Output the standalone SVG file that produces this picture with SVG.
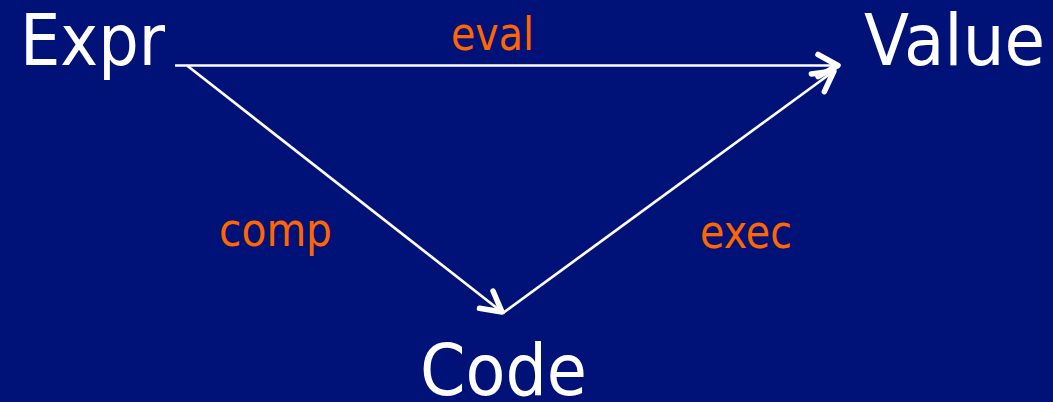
<svg xmlns="http://www.w3.org/2000/svg" width="1053" height="402" viewBox="0 0 1053 402">
<style>
.node{font-family:"DejaVu Sans","Liberation Sans",sans-serif;font-size:71px;fill:#ffffff}
.lbl{font-family:"DejaVu Sans","Liberation Sans",sans-serif;font-size:46px;fill:#ff6600}
.edge{stroke:#ffffff;stroke-width:2.7;fill:none}
</style>
<defs>
<marker id="arrow" markerUnits="userSpaceOnUse" markerWidth="40" markerHeight="40" refX="0" refY="0" orient="auto" overflow="visible">
<path d="M-20,-11 L0,0 L-20,11" fill="none" stroke="#ffffff" stroke-width="5.5" stroke-linecap="round" stroke-linejoin="round"/>
</marker>
</defs>
<rect width="1053" height="402" fill="#001178"/>
<g id="connectors">
<line class="edge" x1="175" y1="65.5" x2="838" y2="65.5" marker-end="url(#arrow)"/>
<line class="edge" x1="187" y1="65.5" x2="502" y2="312" marker-end="url(#arrow)"/>
<line class="edge" x1="503" y1="313" x2="834" y2="71" marker-end="url(#arrow)"/>
<text class="lbl" x="451" y="50" textLength="83" lengthAdjust="spacingAndGlyphs">eval</text>
<text class="lbl" x="219" y="246" textLength="113" lengthAdjust="spacingAndGlyphs">comp</text>
<text class="lbl" x="700" y="248" textLength="92" lengthAdjust="spacingAndGlyphs">exec</text>
</g>
<g id="expr"><text class="node" x="20" y="65" textLength="145" lengthAdjust="spacingAndGlyphs">Expr</text></g>
<g id="value"><text class="node" x="864" y="65" textLength="181" lengthAdjust="spacingAndGlyphs">Value</text></g>
<g id="code"><text class="node" x="420" y="395" textLength="167" lengthAdjust="spacingAndGlyphs">Code</text></g>
</svg>
